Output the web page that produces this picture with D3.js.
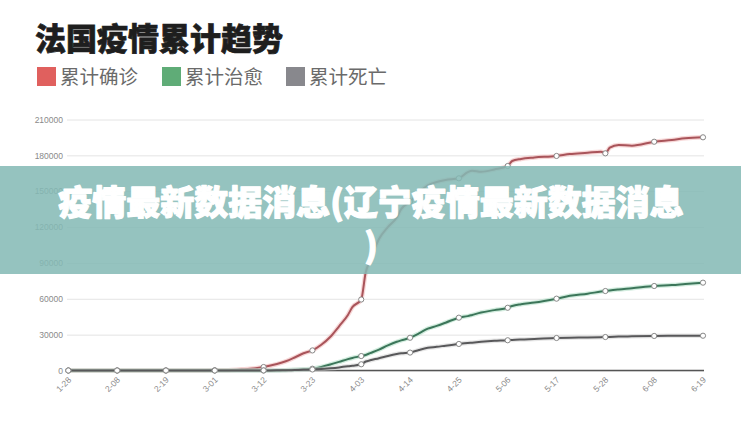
<!DOCTYPE html>
<html><head><meta charset="utf-8">
<script src="https://cdn.jsdelivr.net/npm/d3@7/dist/d3.min.js"></script>
<style>
html,body{margin:0;padding:0;background:#fff;}
svg{display:block;font-family:"Noto Sans CJK SC","Noto Sans",sans-serif;}
</style></head>
<body><svg id="c" width="741" height="440"></svg>
<script>
const title = "法国疫情累计趋势";
const seriesNames = ["累计确诊", "累计治愈", "累计死亡"];
const tickDates = ["01-28","02-08","02-19","03-01","03-12","03-23","04-03","04-14","04-25","05-06","05-17","05-28","06-08","06-19"];
const tickLabels = ["1-28","2-08","2-19","3-01","3-12","3-23","4-03","4-14","4-25","5-06","5-17","5-28","6-08","6-19"];
const yTicks = [0,30000,60000,90000,120000,150000,180000,210000];
const dates = ["01-28","02-08","02-19","03-01","03-04","03-07","03-09","03-12","03-15","03-17","03-19","03-21","03-23","03-25","03-27","03-29","03-31","04-01","04-03","04-04","04-05","04-07","04-09","04-11","04-12","04-14","04-16","04-18","04-20","04-22","04-25","04-27","04-28","04-30","05-03","05-06","05-07","05-09","05-12","05-17","05-20","05-24","05-27","05-28","05-29","05-31","06-03","06-08","06-12","06-15","06-19"];
const confirmed = [4,11,12,130,285,950,1400,2900,5400,7700,10900,14400,16800,21500,28000,37000,46500,53000,59400,82000,92000,110000,120000,128000,135000,141200,149000,155000,157700,159400,160800,166000,167200,166300,168200,171100,175300,177000,178200,179500,181100,182200,183100,181700,186400,188700,188100,191400,192900,194300,195100];
const recovered = [0,0,12,12,12,12,12,12,12,300,600,1000,1500,3000,5000,7200,9500,10500,12100,13000,14500,17500,21000,24000,25200,27400,31000,35000,37300,40000,44200,45500,46500,48500,50500,52500,54000,55500,56800,60100,62500,64300,66000,66500,67000,67800,68800,70700,71500,72400,73500];
const deaths = [0,0,1,2,4,16,25,60,120,175,370,560,860,1330,1900,2600,3500,4000,5200,7500,8500,10300,12200,13800,14400,15000,17200,19000,19800,20800,22200,23000,23300,24000,24800,25300,25600,26000,26400,27200,27400,27700,27900,28000,28100,28400,28600,28900,29000,29050,29100];
const bannerLines = ["疫情最新数据消息(辽宁疫情最新数据消息", ")"];

const parse = s => d3.timeParse("%Y-%m-%d")("2020-" + s);
const svg = d3.select("#c");

const x = d3.scaleTime().domain([parse(tickDates[0]), parse(tickDates[tickDates.length-1])]).range([68.3, 703]);
const y = d3.scaleLinear().domain([0, 210000]).range([370.5, 119.5]);

// title
svg.append("text").attr("x", 35).attr("y", 50).attr("font-size", 31).attr("font-weight", 900)
  .attr("fill", "#1e1e1e").attr("stroke", "#1e1e1e").attr("stroke-width", 0.7).text(title);

// legend
const legendColors = ["#e0605e", "#5fac77", "#88888d"];
const legendX = [37, 162, 286];
seriesNames.forEach((n, i) => {
  svg.append("rect").attr("x", legendX[i]).attr("y", 67).attr("width", 19).attr("height", 19).attr("fill", legendColors[i]);
  svg.append("text").attr("x", legendX[i] + 23).attr("y", 84).attr("font-size", 19.5).attr("fill", "#6a6a6a").text(n);
});

// y axis grid
const yAxis = d3.axisLeft(y).tickValues(yTicks).tickSize(-(704 - 67)).tickFormat(d3.format("d"));
const gy = svg.append("g").attr("transform", "translate(67,0)").call(yAxis);
gy.select(".domain").remove();
gy.selectAll(".tick line").attr("stroke", "#e4e4e4").attr("stroke-width", 1);
gy.selectAll(".tick text").attr("x", -4).attr("fill", "#8a8a8a").attr("font-size", 8.5)
  .attr("font-family", "'Liberation Sans', Arial, sans-serif");

// x axis
const xAxis = d3.axisBottom(x).tickValues(tickDates.map(parse)).tickSize(0).tickFormat((d, i) => tickLabels[i]);
const gx = svg.append("g").attr("transform", "translate(0,370.5)").call(xAxis);
gx.select(".domain").attr("stroke", "#555").attr("stroke-width", 1.6).attr("d", "M67,0H704");
gx.selectAll(".tick text").attr("fill", "#8a8a8a").attr("font-size", 8.5)
  .attr("font-family", "'Liberation Sans', Arial, sans-serif")
  .attr("text-anchor", "end").attr("dy", 0).attr("y", 0)
  .attr("transform", "translate(3,10) rotate(-45)");

// lines
const series = [
  {vals: confirmed, color: "#a9545a", halo: "#f0b0b0"},
  {vals: recovered, color: "#3c765a", halo: "#a8dcc0"},
  {vals: deaths, color: "#58585a", halo: "#d0d0d0"}
];
const line = d3.line().x(d => x(d[0])).y(d => y(d[1])).curve(d3.curveMonotoneX);
series.forEach(s => {
  const pts = dates.map((d, i) => [parse(d), s.vals[i]]);
  svg.append("path").datum(pts).attr("d", line).attr("fill", "none")
    .attr("stroke", s.halo).attr("stroke-width", 4.5).attr("stroke-opacity", 0.5);
  svg.append("path").datum(pts).attr("d", line).attr("fill", "none")
    .attr("stroke", s.color).attr("stroke-width", 2);
});
series.forEach(s => {
  const pts = dates.map((d, i) => [d, s.vals[i]]).filter(p => tickDates.includes(p[0]));
  svg.append("g").selectAll("circle").data(pts).join("circle")
    .attr("cx", d => x(parse(d[0]))).attr("cy", d => y(d[1])).attr("r", 2.6)
    .attr("fill", "#fff").attr("stroke", "#888").attr("stroke-width", 1);
});

// banner overlay
svg.append("rect").attr("x", 0).attr("y", 166).attr("width", 741).attr("height", 108)
  .attr("fill", "#84b9b4").attr("fill-opacity", 0.86);
bannerLines.forEach((t, i) => {
  svg.append("text").attr("x", 371).attr("y", 215 + i * 43).attr("text-anchor", "middle")
    .attr("font-size", 34).attr("font-weight", 900).attr("fill", "#fff")
    .attr("stroke", "#fff").attr("stroke-width", 1.2).attr("stroke-linejoin", "round").text(t);
});
</script></body></html>
